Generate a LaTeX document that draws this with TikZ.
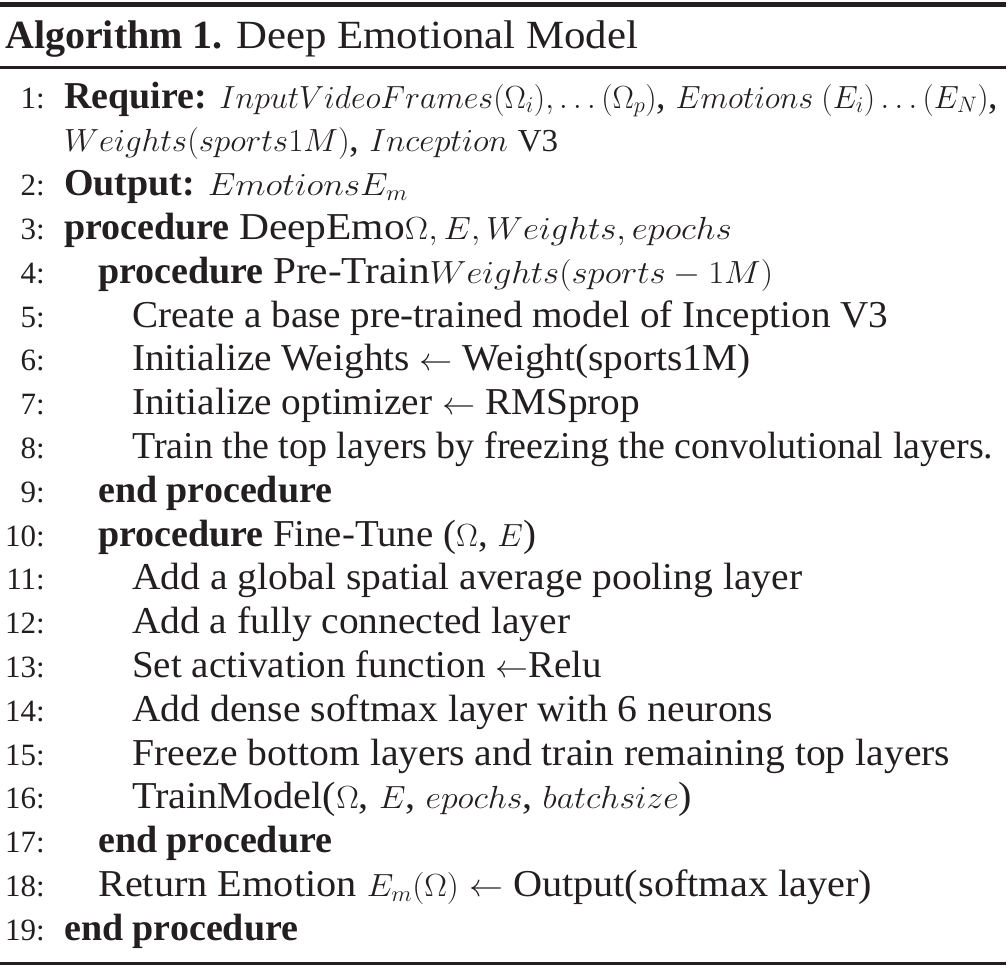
\RequirePackage{fix-cm}
\documentclass[tikz,border=0pt]{standalone}
\usepackage{graphicx}
\usepackage{fontspec}
\setmainfont{Liberation Serif}
\definecolor{ink}{RGB}{35,31,32}
\newcommand{\mth}[1]{{\fontsize{32}{38}\selectfont$#1$}}
\newsavebox\fitbox
\newcommand{\fitw}[2]{\sbox\fitbox{#2}\pgfmathsetmacro\fitscale{#1/(\the\wd\fitbox)}\scalebox{\fitscale}[1]{\usebox\fitbox}}
\begin{document}
\begin{tikzpicture}[x=1pt,y=-1pt,
  txt/.style={anchor=base west, inner sep=0pt, text=ink, font=\fontsize{38}{44}\selectfont},
  num/.style={anchor=base east, inner sep=0pt, text=ink, font=\fontsize{31}{36}\selectfont},
  ttl/.style={anchor=base west, inner sep=0pt, text=ink, font=\fontsize{40}{46}\selectfont},
  rulethick/.style={draw=ink, line width=5pt},
  rulethin/.style={draw=ink, line width=3pt}]
\useasboundingbox (0,0) rectangle (1008,969);
\draw[rulethick] (0,4.5) -- (1006,4.5);
\draw[rulethin] (0,67) -- (1006,67);
\draw[rulethin] (0,963.5) -- (1006,963.5);
\node[ttl] (title) at (5,48) {\textbf{Algorithm 1.} \fitw{402}{Deep Emotional Model}};
% numbers
\node[num] (n1) at (45,108) {1:};
\node[num] (n2) at (45,195.6) {2:};
\node[num] (n3) at (45,239.4) {3:};
\node[num] (n4) at (45,283.2) {4:};
\node[num] (n5) at (45,327) {5:};
\node[num] (n6) at (45,370.8) {6:};
\node[num] (n7) at (45,414.6) {7:};
\node[num] (n8) at (45,458.4) {8:};
\node[num] (n9) at (45,502.2) {9:};
\node[num] (n10) at (45,546) {10:};
\node[num] (n11) at (45,589.8) {11:};
\node[num] (n12) at (45,633.6) {12:};
\node[num] (n13) at (45,677.4) {13:};
\node[num] (n14) at (45,721.2) {14:};
\node[num] (n15) at (45,765) {15:};
\node[num] (n16) at (45,808.8) {16:};
\node[num] (n17) at (45,852.6) {17:};
\node[num] (n18) at (45,896.4) {18:};
\node[num] (n19) at (45,940.2) {19:};
% lines
\node[txt] (l1) at (64,108) {\fitw{934}{\textbf{Require:} \mth{InputVideoFrames(\Omega_i),\ldots(\Omega_p)}, \mth{Emotions\ (E_i)\ldots(E_N)},}};
\node[txt] (l1b) at (64,151.8) {\fitw{494}{\mth{Weights(sports1M)}, \mth{Inception}\ \mth{\mathrm{V3}}}};
\node[txt] (l2) at (64,195.6) {\textbf{Output:} \fitw{200}{\mth{Emotions E_m}}};
\node[txt] (l3) at (64,239.4) {\textbf{procedure} \fitw{493}{DeepEmo\mth{\Omega, E, Weights, epochs}}};
\node[txt] (l4) at (98,283.2) {\textbf{procedure} \fitw{500}{Pre-Train\mth{Weights(sports-1M)}}};
\node[txt] (l5) at (132,327) {\fitw{756}{Create a base pre-trained model of Inception V3}};
\node[txt] (l6) at (132,370.8) {\fitw{618}{Initialize Weights \mth{\leftarrow} Weight(sports1M)}};
\node[txt] (l7) at (132,414.6) {\fitw{508}{Initialize optimizer \mth{\leftarrow} RMSprop}};
\node[txt] (l8) at (132,458.4) {\fitw{861}{Train the top layers by freezing the convolutional layers.}};
\node[txt] (l9) at (98,502.2) {\textbf{end procedure}};
\node[txt] (l10) at (98,546) {\textbf{procedure} \fitw{263}{Fine-Tune (\mth{\Omega}, \mth{E})}};
\node[txt] (l11) at (132,589.8) {\fitw{670}{Add a global spatial average pooling layer}};
\node[txt] (l12) at (132,633.6) {\fitw{438}{Add a fully connected layer}};
\node[txt] (l13) at (132,677.4) {\fitw{470}{Set activation function \mth{\leftarrow}Relu}};
\node[txt] (l14) at (132,721.2) {\fitw{641}{Add dense softmax layer with 6 neurons}};
\node[txt] (l15) at (132,765) {\fitw{818}{Freeze bottom layers and train remaining top layers}};
\node[txt] (l16) at (132,808.8) {\fitw{560}{TrainModel(\mth{\Omega}, \mth{E}, \mth{epochs}, \mth{batchsize})}};
\node[txt] (l17) at (98,852.6) {\textbf{end procedure}};
\node[txt] (l18) at (98,896.4) {\fitw{774}{Return Emotion \mth{E_m(\Omega)} \mth{\leftarrow} Output(softmax layer)}};
\node[txt] (l19) at (64,940.2) {\textbf{end procedure}};
\end{tikzpicture}
\end{document}
